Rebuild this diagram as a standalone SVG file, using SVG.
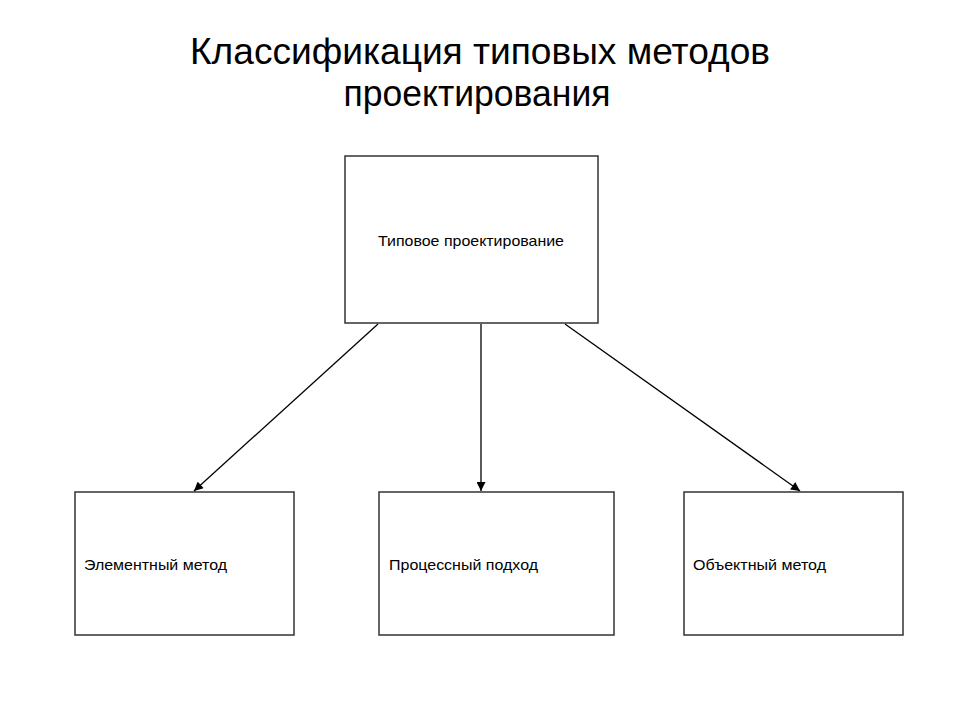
<svg xmlns="http://www.w3.org/2000/svg" width="960" height="720" viewBox="0 0 960 720">
<style>
.box{fill:#fff;stroke:#333;stroke-width:1.5}
.lbl{font-family:"Liberation Sans",Arial,sans-serif;font-size:14.5px;fill:#000}
.title{font-family:"Liberation Sans",Arial,sans-serif;font-size:37px;fill:#000;text-anchor:middle}
.conn{stroke:#000;stroke-width:1.3;fill:none;marker-end:url(#arr)}
</style>
<defs>
<marker id="arr" viewBox="0 0 10 10" refX="10" refY="5" markerWidth="10" markerHeight="9" markerUnits="userSpaceOnUse" orient="auto">
<path d="M0,0 L10,5 L0,10 Z" fill="#000"/>
</marker>
</defs>
<rect width="960" height="720" fill="#fff"/>
<g id="title">
<text class="title" x="480" y="64" textLength="580" lengthAdjust="spacingAndGlyphs">Классификация типовых методов</text>
<text class="title" x="477" y="106" textLength="267" lengthAdjust="spacingAndGlyphs">проектирования</text>
</g>
<g id="node-top">
<rect class="box" x="345" y="156" width="253" height="167"/>
<text class="lbl" x="378" y="246" textLength="186" lengthAdjust="spacingAndGlyphs">Типовое проектирование</text>
</g>
<g id="node-element">
<rect class="box" x="75" y="492" width="219" height="143"/>
<text class="lbl" x="84" y="570" textLength="143" lengthAdjust="spacingAndGlyphs">Элементный метод</text>
</g>
<g id="node-process">
<rect class="box" x="379" y="492" width="235" height="143"/>
<text class="lbl" x="389" y="570" textLength="149" lengthAdjust="spacingAndGlyphs">Процессный подход</text>
</g>
<g id="node-object">
<rect class="box" x="684" y="492" width="219" height="143"/>
<text class="lbl" x="693" y="570" textLength="133" lengthAdjust="spacingAndGlyphs">Объектный метод</text>
</g>
<g id="connectors">
<line class="conn" x1="378" y1="324" x2="194" y2="491"/>
<line class="conn" x1="481" y1="324" x2="481" y2="491"/>
<line class="conn" x1="565" y1="324" x2="800" y2="491"/>
</g>
</svg>
